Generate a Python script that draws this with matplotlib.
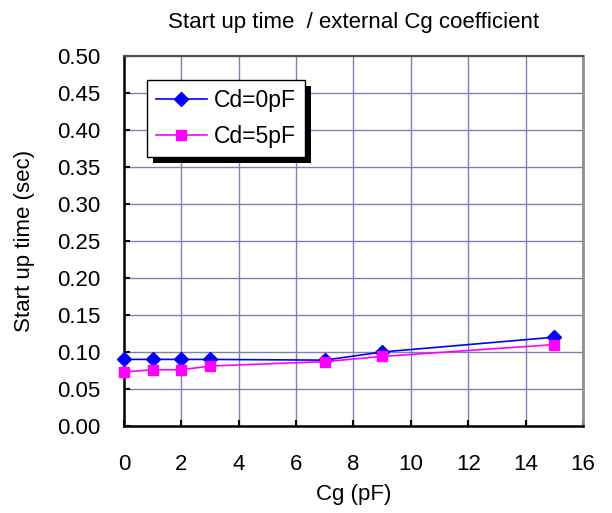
import numpy as np
import matplotlib.pyplot as plt
from matplotlib.ticker import FormatStrFormatter
from matplotlib.patches import Rectangle
from matplotlib.transforms import IdentityTransform

plt.rcParams['font.family'] = ['Liberation Sans', 'DejaVu Sans']

# Data
cg = [0, 1, 2, 3, 7, 9, 15]
cd0 = [0.090, 0.090, 0.090, 0.090, 0.089, 0.100, 0.120]
cd5 = [0.073, 0.076, 0.076, 0.081, 0.087, 0.094, 0.110]

fig = plt.figure(figsize=(6.12, 5.13), dpi=100)
ax = fig.add_axes([0.2026, 0.1696, 0.75, 0.7212])

ax.plot(cg, cd0, color='#0000ff', lw=1.2, marker='D', ms=7, label='Cd=0pF', clip_on=False, zorder=3)
ax.plot(cg, cd5, color='#ff00ff', lw=1.2, marker='s', ms=6.5, label='Cd=5pF', clip_on=False, zorder=3)

ax.set_xlim(0, 16)
ax.set_ylim(0, 0.5)
ax.set_xticks(np.arange(0, 17, 2))
ax.set_yticks(np.arange(0, 0.51, 0.05))
ax.yaxis.set_major_formatter(FormatStrFormatter('%.2f'))

ax.grid(True, color='#8080b0', lw=1)
ax.set_axisbelow(True)
ax.tick_params(direction='in', length=4, width=1.5, labelsize=16, pad=17)
ax.tick_params(axis='x', pad=20)

ax.spines['left'].set_linewidth(1.8)
ax.spines['bottom'].set_linewidth(1.8)
ax.spines['right'].set_color('#909090')
ax.spines['top'].set_color('#505050')
ax.spines['right'].set_linewidth(2)
ax.spines['top'].set_linewidth(1.5)

ax.set_xlabel('Cg (pF)', fontsize=16, labelpad=7)
ax.set_ylabel('Start up time (sec)', fontsize=16, labelpad=16)
ax.set_title('Start up time  / external Cg coefficient', fontsize=16, pad=20)

leg = ax.legend(loc='upper left', bbox_to_anchor=(0.05, 0.935), borderaxespad=0,
                fontsize=16.5, fancybox=False, edgecolor='black', framealpha=1,
                borderpad=0.4, handlelength=2.2, handletextpad=0.3,
                labelspacing=0.55)
leg.get_frame().set_linewidth(1)
leg.set_zorder(5)

# hard black drop shadow behind the legend box
fig.canvas.draw()
bb = leg.get_window_extent()
ax.add_patch(Rectangle((bb.x0 + 6, bb.y0 - 6), bb.width, bb.height,
                       transform=IdentityTransform(), facecolor='black',
                       edgecolor='none', clip_on=False, zorder=4.9))

fig.savefig('out.png', dpi=100)
